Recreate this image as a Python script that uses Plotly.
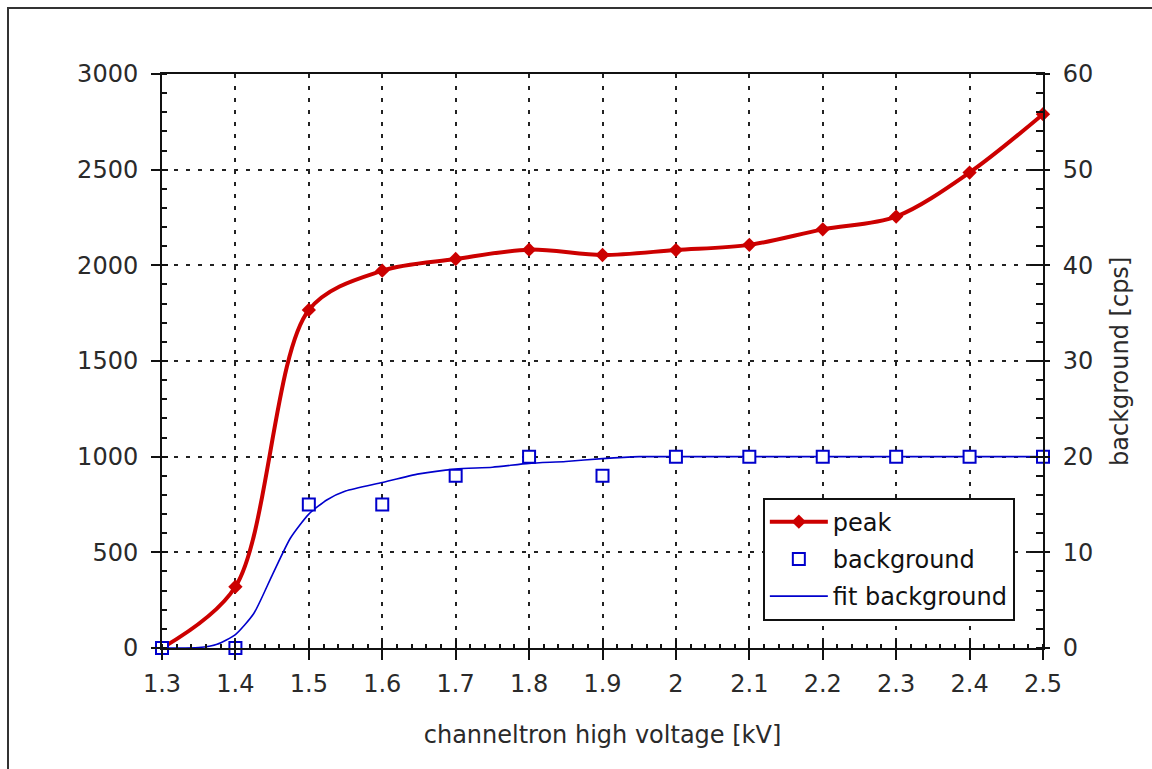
import plotly.graph_objects as go

# Channeltron high voltage scan (kV)
voltage = [1.3, 1.4, 1.5, 1.6, 1.7, 1.8, 1.9, 2.0, 2.1, 2.2, 2.3, 2.4, 2.5]

# Peak count rate (left axis)
peak = [0, 320, 1767, 1972, 2033, 2082, 2054, 2080, 2107, 2188, 2255, 2485, 2790]

# Measured background (right axis, cps)
background = [0, 0, 15, 15, 18, 20, 18, 20, 20, 20, 20, 20, 20]

# Fitted background curve (right axis, cps)
fit_voltage = [1.3, 1.35, 1.375, 1.4, 1.425, 1.45, 1.475, 1.5, 1.525, 1.55,
               1.6, 1.65, 1.7, 1.75, 1.8, 1.85, 1.9, 1.95, 2.0, 2.1, 2.2,
               2.3, 2.4, 2.5]
fit_background = [0.0, 0.05, 0.4, 1.4, 3.6, 7.6, 11.5, 14.0, 15.5, 16.4,
                  17.3, 18.2, 18.7, 18.9, 19.3, 19.5, 19.8, 20.0, 20.0, 20.0,
                  20.0, 20.0, 20.0, 20.0]

x_ticks = [1.3, 1.4, 1.5, 1.6, 1.7, 1.8, 1.9, 2.0, 2.1, 2.2, 2.3, 2.4, 2.5]
x_tick_labels = ["1.3", "1.4", "1.5", "1.6", "1.7", "1.8", "1.9", "2",
                 "2.1", "2.2", "2.3", "2.4", "2.5"]

RED = "#cc0000"
BLUE = "#0000cc"
INK = "#111111"
TEXT = "#2a2a2a"
FONT = "DejaVu Sans"

fig = go.Figure()

fig.add_trace(go.Scatter(
    x=voltage, y=peak, name="peak", mode="lines+markers",
    line=dict(color=RED, width=4, shape="spline", smoothing=0.9),
    marker=dict(symbol="diamond", size=11, color=RED),
    cliponaxis=False, legendrank=1, legendgroup="peak",
))

fig.add_trace(go.Scatter(
    x=fit_voltage, y=fit_background, name="fit background", mode="lines",
    line=dict(color=BLUE, width=1.6, shape="spline", smoothing=0.6),
    yaxis="y2", cliponaxis=False, legendrank=3, legendgroup="fit",
))

fig.add_trace(go.Scatter(
    x=voltage, y=background, name="background", mode="markers",
    marker=dict(symbol="square", size=12, color="white",
                line=dict(color=BLUE, width=2)),
    yaxis="y2", cliponaxis=False, legendrank=2, legendgroup="bg",
))

# empty traces that carry the inward halves of the major ticks
fig.add_trace(go.Scatter(x=[], y=[], xaxis="x3", yaxis="y3", showlegend=False))
fig.add_trace(go.Scatter(x=[], y=[], xaxis="x3", yaxis="y4", showlegend=False))

tick_font = dict(family=FONT, size=24, color=TEXT)
grid = dict(showgrid=True, gridcolor="#222222", gridwidth=1.5, griddash="4px,8px")

fig.update_layout(
    width=1152, height=769,
    margin=dict(l=162, r=109, t=74, b=121),
    paper_bgcolor="white", plot_bgcolor="white",
    font=dict(family=FONT, size=24, color=TEXT),
    xaxis=dict(
        range=[1.3, 2.5], tickvals=x_ticks, ticktext=x_tick_labels,
        ticks="outside", ticklen=10, tickwidth=2, tickcolor=INK,
        showline=True, linecolor=INK, linewidth=2, mirror=True,
        zeroline=False, tickfont=tick_font, ticklabelstandoff=3,
        minor=dict(dtick=0.02, tick0=1.3, ticks="inside", ticklen=4,
                   tickwidth=1.5, tickcolor=INK, showgrid=False),
        title=dict(text="channeltron high voltage [kV]",
                   font=dict(family=FONT, size=24, color=TEXT),
                   standoff=29),
        **grid,
    ),
    yaxis=dict(
        range=[0, 3000], dtick=500, tick0=0,
        ticks="outside", ticklen=9, tickwidth=2, tickcolor=INK,
        showline=True, linecolor=INK, linewidth=2, mirror=True,
        zeroline=False, tickfont=tick_font, ticklabelstandoff=8,
        minor=dict(dtick=100, tick0=0, ticks="inside", ticklen=5,
                   tickwidth=1.5, tickcolor=INK, showgrid=False),
        **grid,
    ),
    yaxis2=dict(
        range=[0, 60], dtick=10, tick0=0, overlaying="y", side="right",
        anchor="x", ticks="outside", ticklen=5, tickwidth=2, tickcolor=INK,
        showline=True, linecolor=INK, linewidth=2, showgrid=False,
        zeroline=False, tickfont=tick_font, ticklabelstandoff=8,
        minor=dict(dtick=2, tick0=0, ticks="inside", ticklen=7,
                   tickwidth=1.5, tickcolor=INK, showgrid=False),
    ),
    xaxis3=dict(
        range=[1.3, 2.5], tickvals=x_ticks, overlaying="x", anchor="y3",
        ticks="inside", ticklen=8, tickwidth=2, tickcolor=INK,
        showticklabels=False, showline=False, showgrid=False, zeroline=False,
    ),
    yaxis3=dict(
        range=[0, 3000], dtick=500, tick0=0, overlaying="y", anchor="x3",
        side="left", ticks="inside", ticklen=6, tickwidth=2, tickcolor=INK,
        showticklabels=False, showline=False, showgrid=False, zeroline=False,
    ),
    yaxis4=dict(
        range=[0, 60], dtick=10, tick0=0, overlaying="y", anchor="x3",
        side="right", ticks="inside", ticklen=13, tickwidth=2, tickcolor=INK,
        showticklabels=False, showline=False, showgrid=False, zeroline=False,
    ),
    legend=dict(
        x=0.682, y=0.262, xanchor="left", yanchor="top",
        bgcolor="white", bordercolor=INK, borderwidth=2,
        font=dict(family=FONT, size=24, color="#111111"),
        itemwidth=58, tracegroupgap=3,
    ),
    showlegend=True,
    annotations=[dict(
        text="background [cps]", textangle=-90,
        xref="paper", yref="paper", x=1.0874, y=0.5,
        xanchor="center", yanchor="middle", showarrow=False,
        font=dict(family=FONT, size=24, color=TEXT),
    )],
    shapes=[dict(
        type="rect", xref="paper", yref="paper",
        x0=-0.1748, x1=1.5, y0=-0.5, y1=1.115,
        line=dict(color="#333333", width=2), fillcolor="rgba(0,0,0,0)",
        layer="below",
    )],
)

fig.write_html("out.html")
